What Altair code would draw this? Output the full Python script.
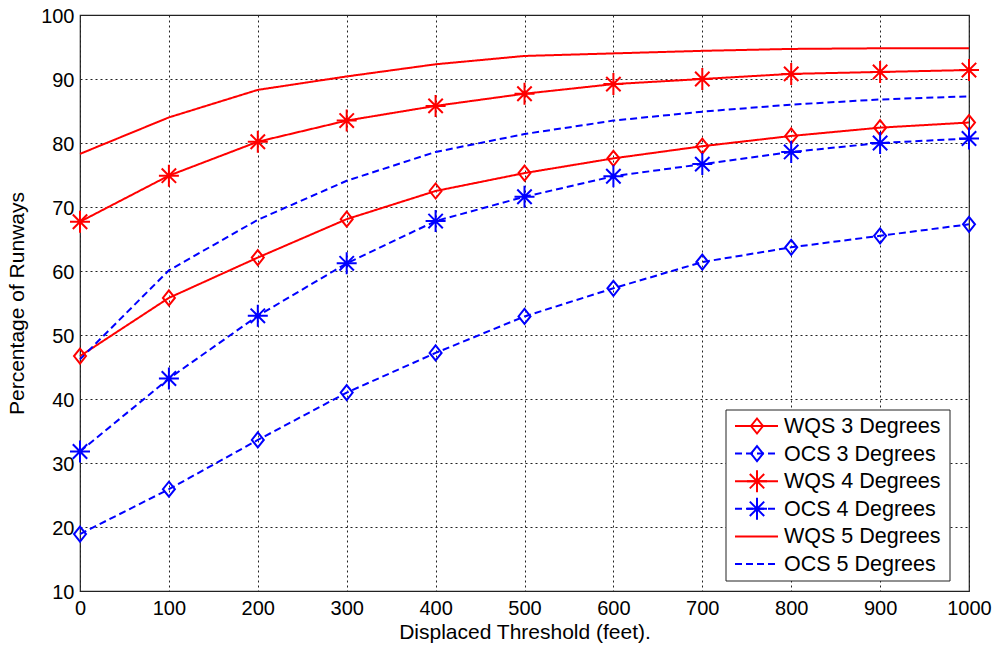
import altair as alt
import pandas as pd

# ---- data ----
thresholds = [0, 100, 200, 300, 400, 500, 600, 700, 800, 900, 1000]
series_names = ["WQS 3 Degrees", "OCS 3 Degrees", "WQS 4 Degrees",
                "OCS 4 Degrees", "WQS 5 Degrees", "OCS 5 Degrees"]
wqs3 = [46.7, 55.8, 62.1, 68.1, 72.5, 75.3, 77.6, 79.5, 81.1, 82.4, 83.2]
ocs3 = [18.9, 25.9, 33.6, 41.0, 47.2, 52.9, 57.3, 61.4, 63.7, 65.5, 67.3]
wqs4 = [67.7, 74.9, 80.2, 83.5, 85.8, 87.7, 89.2, 90.0, 90.8, 91.1, 91.4]
ocs4 = [31.8, 43.2, 53.0, 61.2, 67.8, 71.6, 74.8, 76.7, 78.6, 80.0, 80.7]
wqs5 = [78.3, 84.0, 88.3, 90.4, 92.3, 93.6, 94.0, 94.4, 94.7, 94.8, 94.8]
ocs5 = [46.2, 60.1, 68.0, 74.1, 78.6, 81.4, 83.5, 84.9, 86.0, 86.8, 87.3]
marker_series = ["WQS 3 Degrees", "OCS 3 Degrees", "WQS 4 Degrees", "OCS 4 Degrees"]

values = [wqs3, ocs3, wqs4, ocs4, wqs5, ocs5]
rows = []
for name, vals in zip(series_names, values):
    for t, v in zip(thresholds, vals):
        rows.append({"series": name, "threshold": t, "pct": v})
df = pd.DataFrame(rows)
legend_df = pd.DataFrame({"series": series_names})

# ---- styles ----
RED, BLUE = "#ff0000", "#0000ff"
color_scale = alt.Scale(domain=series_names, range=[RED, BLUE, RED, BLUE, RED, BLUE])
dash_scale = alt.Scale(domain=series_names,
                       range=[[1, 0], [7, 4], [1, 0], [7, 4], [1, 0], [7, 4]])
DIAMOND = "M0,-0.75L0.6,0L0,0.75L-0.6,0Z"
ASTER = "M-1,0L1,0M0,-1.1L0,1.1M-0.72,-0.72L0.72,0.72M-0.72,0.72L0.72,-0.72"
shape_scale = alt.Scale(domain=marker_series, range=[DIAMOND, DIAMOND, ASTER, ASTER])

FONT = "Liberation Sans"
W, H = 889, 576

x_enc = alt.X("threshold:Q",
              scale=alt.Scale(domain=[0, 1000], nice=False),
              axis=alt.Axis(values=thresholds, format="d",
                            title="Displaced Threshold (feet).",
                            titleX=W / 2, titleY=47, titleBaseline="alphabetic",
                            labelPadding=7, labelFlush=False, labelOverlap=False))
y_enc = alt.Y("pct:Q",
              scale=alt.Scale(domain=[10, 100], nice=False),
              axis=alt.Axis(values=list(range(10, 101, 10)), format="d",
                            title="Percentage of Runways",
                            titleX=-62.5, titleY=H / 2, titleBaseline="middle",
                            labelPadding=6, labelOffset=1.5,
                            labelFlush=False, labelOverlap=False))

base = alt.Chart(df)
lines = base.mark_line(strokeWidth=2, strokeCap="butt").encode(
    x=x_enc, y=y_enc,
    color=alt.Color("series:N", scale=color_scale, legend=None),
    strokeDash=alt.StrokeDash("series:N", scale=dash_scale, legend=None),
    detail="series:N",
)
points = base.transform_filter(
    alt.FieldOneOfPredicate(field="series", oneOf=marker_series)
).mark_point(filled=False, strokeWidth=2, size=400, opacity=1).encode(
    x="threshold:Q", y="pct:Q",
    color=alt.Color("series:N", scale=color_scale, legend=None),
    shape=alt.Shape("series:N", scale=shape_scale, legend=None),
)
main = alt.layer(lines, points)

# ---- MATLAB-style legend box ----
leg_y = alt.Y("series:N", scale=alt.Scale(type="point", domain=series_names,
                                          range=[411, 549], padding=0), axis=None)
box = alt.Chart(pd.DataFrame({"a": [0]})).mark_rect(
    fill="white", stroke="#222222", strokeWidth=1
).encode(x=alt.value(646), x2=alt.value(870), y=alt.value(395), y2=alt.value(566))
leg_lines = alt.Chart(legend_df).mark_rule(strokeWidth=2, strokeCap="butt").encode(
    x=alt.value(655), x2=alt.value(698), y=leg_y,
    color=alt.Color("series:N", scale=color_scale, legend=None),
    strokeDash=alt.StrokeDash("series:N", scale=dash_scale, legend=None),
)
leg_points = alt.Chart(legend_df).transform_filter(
    alt.FieldOneOfPredicate(field="series", oneOf=marker_series)
).mark_point(filled=False, strokeWidth=2, size=400, opacity=1).encode(
    x=alt.value(677), y=leg_y,
    color=alt.Color("series:N", scale=color_scale, legend=None),
    shape=alt.Shape("series:N", scale=shape_scale, legend=None),
)
leg_text = alt.Chart(legend_df).mark_text(
    align="left", baseline="middle", font=FONT, fontSize=21.5, color="black", dy=1
).encode(x=alt.value(704), y=leg_y, text="series:N")
legend = alt.layer(box, leg_lines, leg_points, leg_text)

chart = alt.layer(main, legend).resolve_scale(y="independent").properties(
    width=W, height=H,
    autosize="none",
    background="white",
    padding={"left": 80, "top": 15, "right": 29, "bottom": 57},
).configure_view(
    stroke="#222222", strokeWidth=1.2
).configure_axis(
    grid=True, gridColor="#222222", gridDash=[2, 3], gridWidth=1, gridOpacity=1,
    ticks=False, tickSize=0, domain=False,
    labelFont=FONT, labelFontSize=20, labelColor="black",
    titleFont=FONT, titleFontSize=21, titleColor="black", titleFontWeight="normal",
)

chart.save("out.html", embed_options={"renderer": "svg", "actions": False})
